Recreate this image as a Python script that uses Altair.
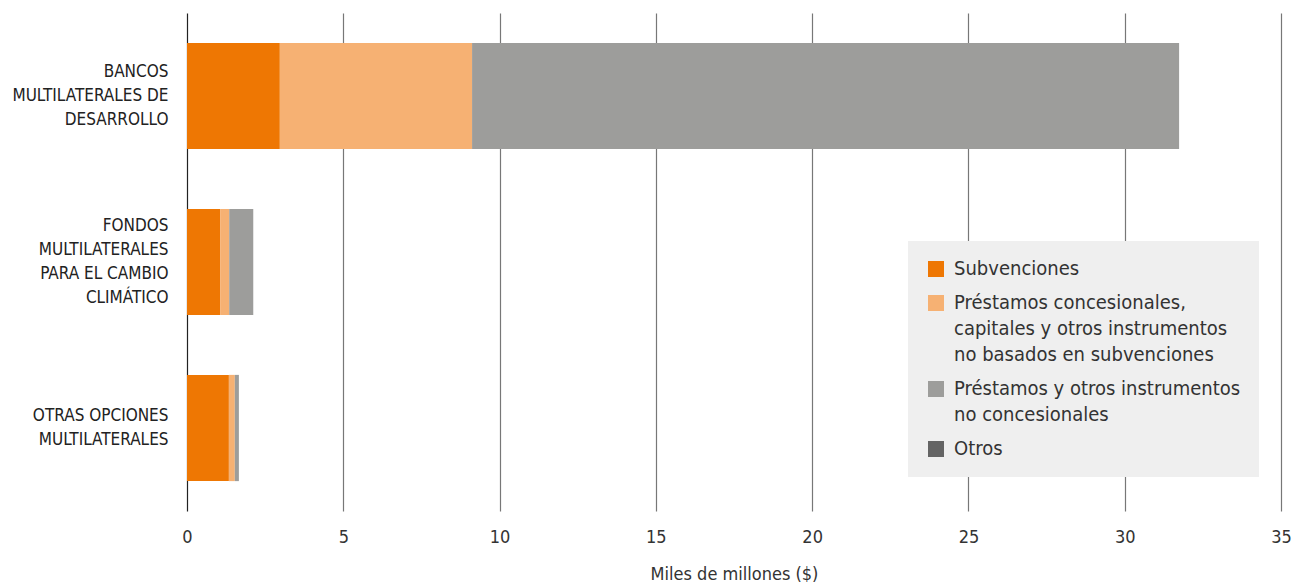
import altair as alt
import pandas as pd

# Funding channels (y categories); "|" marks a line break in the axis label
channels = [
    "BANCOS|MULTILATERALES DE|DESARROLLO",
    "FONDOS|MULTILATERALES|PARA EL CAMBIO|CLIMÁTICO",
    "OTRAS OPCIONES|MULTILATERALES",
]

# Instrument types, in stacking / legend order
instruments = [
    "Subvenciones",
    "Préstamos concesionales,|capitales y otros instrumentos|no basados en subvenciones",
    "Préstamos y otros instrumentos|no concesionales",
    "Otros",
]
colors = ["#EE7703", "#F6B173", "#9D9D9B", "#646464"]

# Amounts in thousands of millions of dollars, one list per instrument
subvenciones = [2.97, 1.06, 1.34]
concesionales = [6.15, 0.29, 0.19]
no_concesionales = [22.62, 0.77, 0.13]
otros = [0.0, 0.0, 0.0]

series = [subvenciones, concesionales, no_concesionales, otros]
rows = []
for k, (name, vals) in enumerate(zip(instruments, series)):
    for ch, v in zip(channels, vals):
        rows.append({"canal": ch, "instrumento": name, "valor": v, "orden": k})
df = pd.DataFrame(rows)

FONT = "Liberation Sans Narrow, DejaVu Sans Condensed, Roboto, sans-serif"
Y_LINE = 24

# shift multi-line category labels so the whole block is centred on its band
n_lines = "length(split(datum.label, '|'))"
y_label_offset = {
    "condition": [
        {"test": f"{n_lines} == 4", "value": -1.5 * Y_LINE},
        {"test": f"{n_lines} == 3", "value": -1.0 * Y_LINE},
        {"test": f"{n_lines} == 2", "value": -0.5 * Y_LINE},
    ],
    "value": 0,
}

chart = (
    alt.Chart(df)
    .mark_bar()
    .encode(
        y=alt.Y(
            "canal:N",
            sort=channels,
            scale=alt.Scale(paddingInner=0.36, paddingOuter=0.18),
            axis=alt.Axis(
                title=None,
                labelExpr="split(datum.label, '|')",
                labelLineHeight=Y_LINE,
                labelFontSize=17,
                labelColor="#222222",
                labelPadding=19,
                labelOffset=y_label_offset,
                ticks=False,
                domain=False,
                grid=False,
            ),
        ),
        x=alt.X(
            "valor:Q",
            stack="zero",
            scale=alt.Scale(domain=[0, 35], nice=False),
            axis=alt.Axis(
                title="Miles de millones ($)",
                values=[0, 5, 10, 15, 20, 25, 30, 35],
                format="d",
                labelFontSize=18,
                labelColor="#333333",
                labelPadding=17,
                labelFlush=False,
                titleFontSize=18,
                titleFontWeight="normal",
                titleColor="#333333",
                titlePadding=19,
                ticks=False,
                domain=False,
                grid=True,
                gridColor={"condition": {"test": "datum.value === 0", "value": "#222222"}, "value": "#777777"},
                gridWidth=1.2,
                gridOpacity=1,
            ),
        ),
        color=alt.Color(
            "instrumento:N",
            scale=alt.Scale(domain=instruments, range=colors),
            legend=alt.Legend(
                title=None,
                orient="none",
                legendX=721,
                legendY=228,
                fillColor="#EFEFEF",
                padding=18,
                symbolType="square",
                symbolSize=256,
                symbolStrokeWidth=0,
                symbolOpacity=1,
                labelExpr="split(datum.label, '|')",
                labelFontSize=20,
                labelColor="#333333",
                labelLimit=400,
                labelOffset=8,
                rowPadding=14,
            ),
        ),
        order=alt.Order("orden:Q"),
    )
    .properties(
        width=1094,
        height=498,
        autosize=alt.AutoSizeParams(type="none"),
        padding={"left": 187, "top": 13, "right": 12, "bottom": 71},
    )
    .configure(font=FONT, style={"guide-label": {"lineHeight": 26}})
    .configure_view(stroke=None)
)

chart.save("out.html", embed_options={"renderer": "svg", "actions": False})
